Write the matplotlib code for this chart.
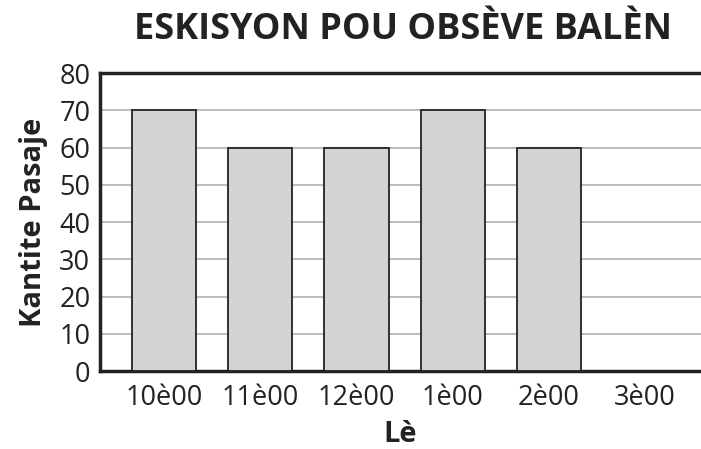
import matplotlib
matplotlib.use('Agg')
from matplotlib import pyplot as plt

hours = ['10è00', '11è00', '12è00', '1è00', '2è00', '3è00']
passengers = [70, 60, 60, 70, 60, 0]
y_ticks = [0, 10, 20, 30, 40, 50, 60, 70, 80]

plt.rcParams['font.family'] = ['Open Sans', 'DejaVu Sans']

fig = plt.figure(figsize=(7.01, 4.49), dpi=100)
ax = fig.add_axes([0.1427, 0.1737, 0.857, 0.6637])

x = list(range(len(hours)))
ax.bar(x, passengers, width=0.667, color='#d3d3d3', edgecolor='#222222',
       linewidth=1.3, zorder=3)

ax.set_xlim(-0.667, 5.58)
ax.set_ylim(0, 80)
ax.set_yticks(y_ticks)
ax.set_xticks(x)
ax.set_xticklabels(hours)
ax.tick_params(axis='both', length=0, labelsize=19.5, colors='#222222', pad=7)
ax.tick_params(axis='x', pad=9)

ax.yaxis.grid(True, color='#b5b5b5', linewidth=1.3, zorder=0)
ax.set_axisbelow(True)

for s in ['left', 'bottom', 'top']:
    ax.spines[s].set_linewidth(2.5)
    ax.spines[s].set_color('#222222')
ax.spines['right'].set_visible(False)

ax.set_xlabel('Lè', fontsize=21, fontweight='bold', color='#222222', labelpad=6)
ax.set_ylabel('Kantite Pasaje', fontsize=21, fontweight='bold', color='#222222', labelpad=8)
fig.text(0.575, 0.933, 'ESKISYON POU OBSÈVE BALÈN', fontsize=26, fontweight='bold',
         color='#222222', ha='center', va='center')

fig.savefig('out.png', dpi=100)
